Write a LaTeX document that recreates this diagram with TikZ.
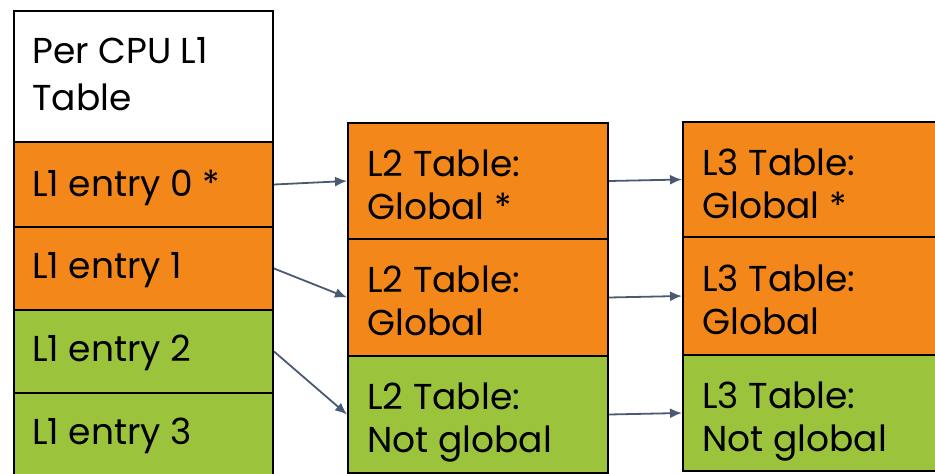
\documentclass[tikz,border=0pt]{standalone}
\usepackage{fontspec}
\setmainfont{Poppins}
\usetikzlibrary{arrows.meta}
\definecolor{org}{HTML}{F4871A}
\definecolor{grn}{HTML}{9BC43C}
\definecolor{arr}{HTML}{4A5A73}
\begin{document}
\begin{tikzpicture}[x=1pt,y=-1pt,
  cell/.style={draw=black,line width=2pt,anchor=north west,inner sep=0pt,minimum width=#1},
  cell/.default=259pt,
  lbl/.style={anchor=base west,inner sep=0pt,font=\fontsize{36}{43}\selectfont},
  link/.style={draw=arr,line width=1.8pt,-{Latex[length=12pt,width=10pt]}}]
\useasboundingbox (0,0) rectangle (935,474);
\clip (0,0) rectangle (935,474);
% L1 column
\node[cell,fill=white,minimum height=131pt] (hdr) at (13,10) {};
\node[cell,fill=org,minimum height=85pt] (e0) at (13,141) {};
\node[cell,fill=org,minimum height=83pt] (e1) at (13,226) {};
\node[cell,fill=grn,minimum height=83pt] (e2) at (13,309) {};
\node[cell,fill=grn,minimum height=100pt] (e3) at (13,392) {};
% L2 column
\node[cell=260pt,fill=org,minimum height=116pt] (a2) at (347,122) {};
\node[cell=260pt,fill=org,minimum height=117pt] (b2) at (347,238) {};
\node[cell=260pt,fill=grn,minimum height=117pt] (c2) at (347,355) {};
% L3 column
\node[cell=300pt,fill=org,minimum height=115pt] (a3) at (682,121) {};
\node[cell=300pt,fill=org,minimum height=118pt] (b3) at (682,236) {};
\node[cell=300pt,fill=grn,minimum height=116pt] (c3) at (682,354) {};
% texts
\node[lbl] (t0) at (32,63) {Per CPU L1};
\node[lbl] (t1) at (32,110) {Table};
\node[lbl] (t2) at (32,196) {L1 entry 0 *};
\node[lbl] (t3) at (32,278) {L1 entry 1};
\node[lbl] (t4) at (32,361) {L1 entry 2};
\node[lbl] (t5) at (32,444) {L1 entry 3};
\node[lbl] (u1) at (367,176) {L2 Table:};
\node[lbl] (u2) at (367,219) {Global *};
\node[lbl] (u3) at (367,292) {L2 Table:};
\node[lbl] (u4) at (367,335) {Global};
\node[lbl] (u5) at (367,409) {L2 Table:};
\node[lbl] (u6) at (367,452) {Not global};
\node[lbl] (v1) at (702,175) {L3 Table:};
\node[lbl] (v2) at (702,218) {Global *};
\node[lbl] (v3) at (702,291) {L3 Table:};
\node[lbl] (v4) at (702,334) {Global};
\node[lbl] (v5) at (702,408) {L3 Table:};
\node[lbl] (v6) at (702,451) {Not global};
% arrows
\draw[link] (e0.east) -- (a2.west);
\draw[link] (e1.east) -- (b2.west);
\draw[link] (e2.east) -- (c2.west);
\draw[link] (a2.east) -- (a3.west);
\draw[link] (b2.east) -- (b3.west);
\draw[link] (c2.east) -- (c3.west);
\end{tikzpicture}
\end{document}
